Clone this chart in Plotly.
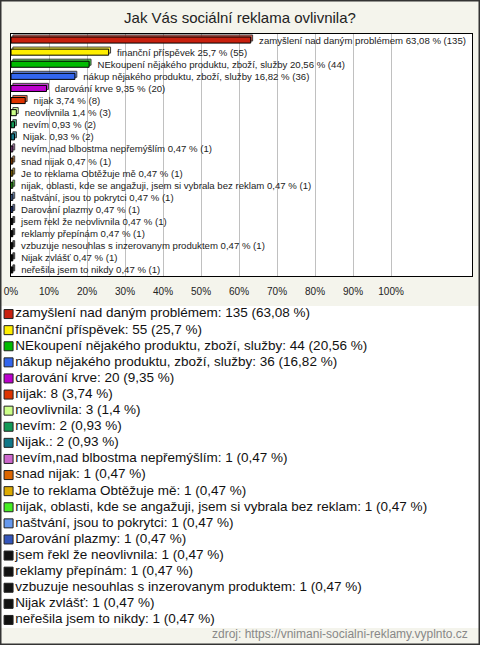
import plotly.graph_objects as go

title = "Jak Vás sociální reklama ovlivnila?"
source = "zdroj: https://vnimani-socialni-reklamy.vyplnto.cz"

categories = [
    "zamyšlení nad daným problémem",
    "finanční příspěvek",
    "NEkoupení nějakého produktu, zboží, služby",
    "nákup nějakého produktu, zboží, služby",
    "darování krve",
    "nijak",
    "neovlivnila",
    "nevím",
    "Nijak.",
    "nevím,nad blbostma nepřemýšlím",
    "snad nijak",
    "Je to reklama Obtěžuje mě",
    "nijak, oblasti, kde se angažuji, jsem si vybrala bez reklam",
    "naštvání, jsou to pokrytci",
    "Darování plazmy",
    "jsem řekl že neovlivnila",
    "reklamy přepínám",
    "vzbuzuje nesouhlas s inzerovanym produktem",
    "Nijak zvlášť",
    "neřešila jsem to nikdy",
]
counts = [135, 55, 44, 36, 20, 8, 3, 2, 2, 1, 1, 1, 1, 1, 1, 1, 1, 1, 1, 1]
percents = [63.08, 25.7, 20.56, 16.82, 9.35, 3.74, 1.4, 0.93, 0.93,
            0.47, 0.47, 0.47, 0.47, 0.47, 0.47, 0.47, 0.47, 0.47, 0.47, 0.47]
colors = ["#c8200e", "#ffee00", "#00bb00", "#3366ee", "#bb00cc", "#dd3300",
          "#ccff88", "#119955", "#117788", "#cc66cc", "#dd6600", "#ddaa00",
          "#44ee22", "#6699ee", "#3355bb", "#111111", "#111111", "#111111",
          "#111111", "#111111"]
tick_vals = [0, 10, 20, 30, 40, 50, 60, 70, 80, 90, 100]
tick_text = ["0%", "10%", "20%", "30%", "40%", "50%", "60%", "70%", "80%", "90%", "100%"]

W, H = 480, 645
FONT = "Liberation Sans, Arial, sans-serif"


def fmt(p):
    return str(p).replace(".", ",")


idx = list(range(len(categories)))
bar_text = ["\u00a0\u00a0" + f"{c} {fmt(p)} % ({n})" for c, p, n in zip(categories, percents, counts)]
legend_text = [f"{c}: {n} ({fmt(p)} %)" for c, p, n in zip(categories, percents, counts)]

fig = go.Figure()

# depth (3D back face)
fig.add_trace(go.Bar(
    x=percents, y=idx, orientation="h", base=0.5,
    width=0.5, offset=-0.42,
    marker=dict(color=colors, line=dict(color="#000000", width=1), opacity=0.75),
    hoverinfo="skip", showlegend=False,
))
# front face
fig.add_trace(go.Bar(
    x=percents, y=idx, orientation="h",
    width=0.5, offset=-0.25,
    marker=dict(color=colors, line=dict(color="#000000", width=1)),
    text=bar_text, textposition="outside", constraintext="none", cliponaxis=False,
    textfont=dict(family=FONT, size=9.6, color="#222222"),
    showlegend=False,
))

# legend drawn as a scatter on its own axes
fig.add_trace(go.Scatter(
    x=[0] * len(idx), y=idx, mode="markers+text",
    xaxis="x2", yaxis="y2",
    marker=dict(symbol="square", size=9, color=colors, line=dict(color="#222222", width=1)),
    text=legend_text, textposition="middle right",
    textfont=dict(family=FONT, size=13.5, color="#111111"),
    showlegend=False, hoverinfo="skip",
))

fig.update_layout(
    width=W, height=H,
    margin=dict(l=0, r=0, t=0, b=0),
    paper_bgcolor="#f4f4ec",
    plot_bgcolor="#ffffff",
    barmode="overlay",
    title=dict(text=title, x=0.5, xanchor="center", y=1 - 18 / H, yanchor="middle",
               font=dict(family=FONT, size=15, color="#222222")),
    xaxis=dict(domain=[11 / W, 472 / W], range=[0, 121.3], tickvals=tick_vals, ticktext=tick_text,
               showgrid=True, gridcolor="#c0c0c0", gridwidth=1, zeroline=False,
               showline=True, mirror=True, linecolor="#000000", linewidth=1,
               ticks="outside", ticklen=6, tickcolor="rgba(0,0,0,0)",
               tickfont=dict(family=FONT, size=10, color="#222222"), fixedrange=True,
               automargin=False),
    yaxis=dict(domain=[1 - 276 / H, 1 - 34 / H], range=[19.5, -0.5], showticklabels=False,
               showgrid=False, zeroline=False, showline=True, mirror=True,
               linecolor="#000000", linewidth=1, automargin=False, fixedrange=True),
    xaxis2=dict(domain=[0, 1], range=[-1, 55], visible=False, fixedrange=True, anchor="y2"),
    yaxis2=dict(domain=[1 - 628 / H, 1 - 306 / H], range=[19.5, -0.5], visible=False,
                anchor="x2", fixedrange=True),
    shapes=[dict(type="rect", xref="paper", yref="paper", x0=0.75 / W, x1=1 - 0.75 / W,
                 y0=0.75 / H, y1=1 - 0.75 / H, line=dict(color="#333333", width=1.5))],
    annotations=[dict(text=source, xref="paper", yref="paper", x=1 - 10 / W, y=1 - 634 / H,
                      xanchor="right", yanchor="middle", showarrow=False,
                      font=dict(family=FONT, size=12, color="#888888"))],
)

fig.write_html(
    "out.html",
    config={"displayModeBar": False},
    post_script="document.body.style.margin='0';document.body.style.overflow='hidden';",
)
